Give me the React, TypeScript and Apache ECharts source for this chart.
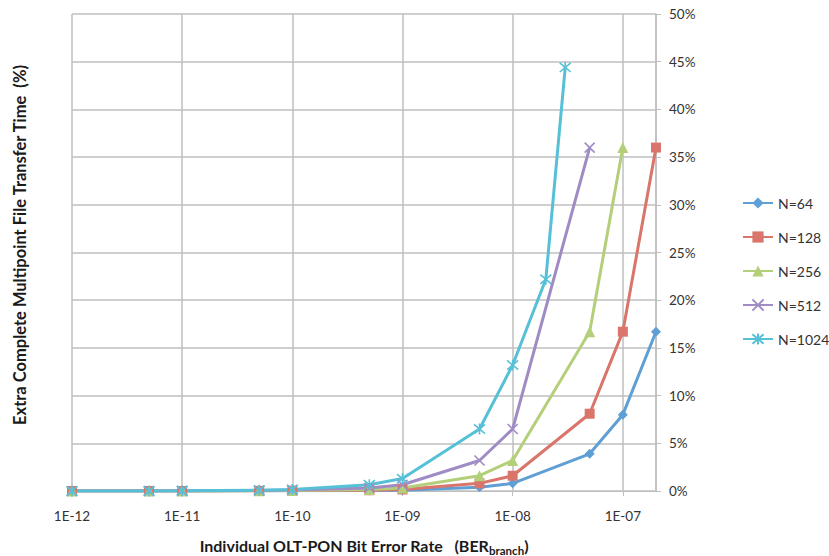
import React, { useEffect, useRef } from "react";
import * as echarts from "echarts";

const seriesNames = ["N=64", "N=128", "N=256", "N=512", "N=1024"];
const colors = ["#5f9fd6", "#d9756a", "#b3cf7a", "#a08cc5", "#56c0d7"];

const berLow = [1e-12, 5e-12, 1e-11, 5e-11, 1e-10, 5e-10, 1e-9, 5e-9, 1e-8];

const xN64 = [...berLow, 5e-8, 1e-7, 2e-7];
const yN64 = [0, 0, 0, 0.02, 0.03, 0.05, 0.08, 0.4, 0.8, 3.9, 8.0, 16.7];

const xN128 = [...berLow, 5e-8, 1e-7, 2e-7];
const yN128 = [0, 0, 0, 0.02, 0.04, 0.08, 0.16, 0.8, 1.6, 8.1, 16.7, 36.0];

const xN256 = [...berLow, 5e-8, 1e-7];
const yN256 = [0, 0, 0, 0.03, 0.06, 0.16, 0.32, 1.6, 3.2, 16.7, 36.0];

const xN512 = [...berLow, 5e-8];
const yN512 = [0, 0, 0.01, 0.05, 0.1, 0.32, 0.65, 3.2, 6.5, 36.0];

const xN1024 = [...berLow, 2e-8, 3e-8];
const yN1024 = [0, 0, 0.02, 0.08, 0.15, 0.65, 1.3, 6.5, 13.2, 22.2, 44.4];

const xs = [xN64, xN128, xN256, xN512, xN1024];
const ys = [yN64, yN128, yN256, yN512, yN1024];

const yTicks = { min: 0, max: 50, interval: 5 };

const crossPath = "path://M0,0L10,10M10,0L0,10";
const starPath = "path://M0,0L10,10M10,0L0,10M5,-1L5,11";
const symbols = ["diamond", "rect", "triangle", crossPath, starPath];
const symbolSizes = [10, 10, 11, 10, 11];

export default function App() {
  const ref = useRef<HTMLDivElement>(null);
  useEffect(() => {
    if (!ref.current) return;
    const chart = echarts.init(ref.current, null, { renderer: "svg" });
    const font = "Lato, 'Open Sans', sans-serif";
    const series = seriesNames.map((name, i) => {
      const stroke = i >= 3;
      return {
        name,
        type: "line",
        data: xs[i].map((x, k) => [x, ys[i][k]]),
        symbol: symbols[i],
        symbolSize: symbolSizes[i],
        showAllSymbol: true,
        lineStyle: { color: colors[i], width: 3 },
        itemStyle: stroke
          ? { color: colors[i], borderColor: colors[i], borderWidth: 1.6 }
          : { color: colors[i], borderWidth: 0 },
        emphasis: { disabled: true },
      };
    });
    chart.setOption({
      animation: false,
      textStyle: { fontFamily: font },
      grid: { left: 72, right: 173, top: 14, bottom: 65, containLabel: false, outerBoundsMode: "none" },
      legend: {
        orient: "vertical",
        left: 742,
        top: 196,
        padding: 0,
        itemWidth: 30,
        itemHeight: 14,
        itemGap: 20,
        textStyle: { fontSize: 14, color: "#333", fontFamily: font, padding: [0, 0, 0, 0] },
        data: seriesNames,
      },
      xAxis: {
        type: "log",
        logBase: 10,
        min: 1e-12,
        max: 2e-7,
        name: "{a|Individual OLT-PON Bit Error Rate   (BER}{s|branch}{a|)}",
        nameLocation: "middle",
        nameGap: 44,
        nameTextStyle: {
          rich: {
            a: { fontSize: 16, fontWeight: "bold", color: "#1a1a1a", fontFamily: font },
            s: { fontSize: 11.5, fontWeight: "bold", color: "#1a1a1a", fontFamily: font, padding: [9, 0, 0, 0] },
          },
        },
        axisLine: { show: true, lineStyle: { color: "#bfbfbf", width: 1 } },
        axisTick: { show: true, length: 5, lineStyle: { color: "#bfbfbf" } },
        splitLine: { show: true, lineStyle: { color: "#bfbfbf", width: 1.5 } },
        minorTick: { show: false },
        axisLabel: {
          fontSize: 13.5,
          color: "#333",
          margin: 18,
          fontFamily: font,
          showMaxLabel: false,
          formatter: (v: number) => {
            const e = Math.log10(v);
            const r = Math.round(e);
            if (Math.abs(e - r) > 1e-6) return "";
            const abs = Math.abs(r);
            return "1E" + (r < 0 ? "-" : "+") + (abs < 10 ? "0" + abs : String(abs));
          },
        },
      },
      yAxis: {
        type: "value",
        position: "right",
        min: yTicks.min,
        max: yTicks.max,
        interval: yTicks.interval,
        axisLine: { show: true, lineStyle: { color: "#bfbfbf", width: 1.5 } },
        axisTick: { show: true, length: 5, lineStyle: { color: "#bfbfbf" } },
        splitLine: { show: true, lineStyle: { color: "#bfbfbf", width: 1.5 } },
        axisLabel: { fontSize: 13.5, color: "#333", margin: 13, fontFamily: font, formatter: "{value}%" },
      },
      graphic: [
        {
          type: "text",
          x: 20,
          y: 245,
          rotation: Math.PI / 2,
          style: {
            text: "Extra Complete Multipoint File Transfer Time  (%)",
            fontSize: 16.5,
            fontWeight: "bold",
            fill: "#1a1a1a",
            fontFamily: font,
            align: "center",
            verticalAlign: "middle",
          },
        },
      ],
      series,
    });
    return () => chart.dispose();
  }, []);
  return <div ref={ref} style={{ position: "absolute", left: 0, top: 0, width: 829, height: 556 }} />;
}
